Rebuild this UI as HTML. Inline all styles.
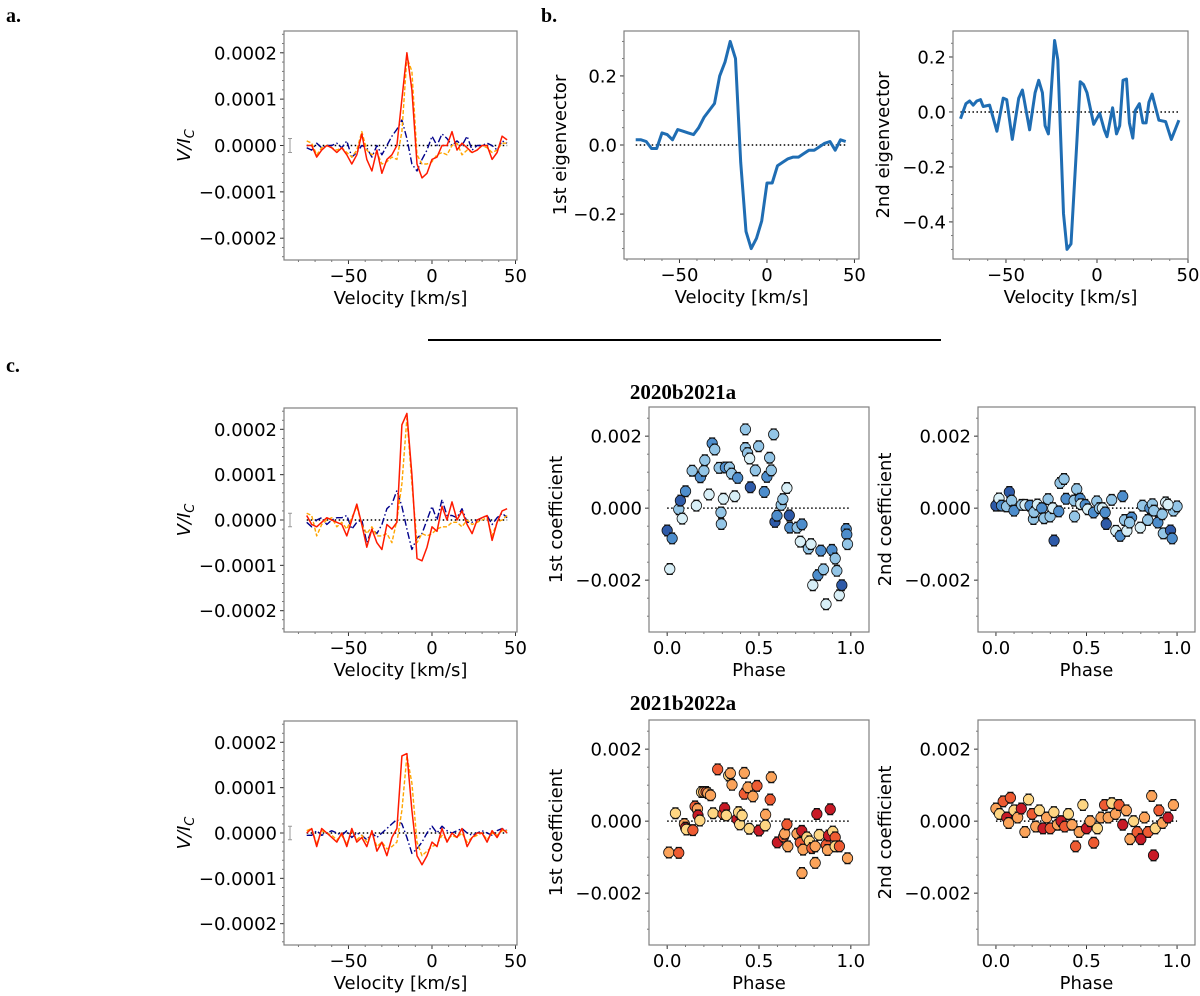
<!DOCTYPE html>
<html><head><meta charset="utf-8"><style>
html,body{margin:0;padding:0;background:#fff;}
svg{display:block;font-family:"DejaVu Sans","Liberation Sans",sans-serif;}
.lab{font-family:"Liberation Serif",serif;font-weight:bold;}
</style></head><body>
<svg id="fig" width="1200" height="996" viewBox="0 0 1200 996" xmlns="http://www.w3.org/2000/svg">
<text class="lab" x="6" y="22" font-size="20">a.</text>
<text class="lab" x="541" y="22" font-size="20">b.</text>
<text class="lab" x="6" y="372" font-size="20">c.</text>
<line x1="428" y1="340" x2="941" y2="340" stroke="#000" stroke-width="2"/>
<text class="lab" x="683" y="399" font-size="21" text-anchor="middle">2020b2021a</text>
<text class="lab" x="683" y="710" font-size="21" text-anchor="middle">2021b2022a</text>
</svg>
<script>
// ---------- data ----------
const vel = [-75,-72,-69,-66,-63,-60,-57,-54,-51,-48,-45,-42,-39,-36,-33,-30,-27,-24,-21,-18,-15,-12,-9,-6,-3,0,3,6,9,12,15,18,21,24,27,30,33,36,39,42,45];
// panel a (units 1e-4)
const aRed = [0,0,-0.25,-0.1,0,-0.05,-0.15,-0.05,-0.2,-0.4,-0.2,0.25,-0.3,-0.55,-0.1,-0.6,-0.3,-0.2,0.0,1.0,2.0,1.2,-0.4,-0.7,-0.6,-0.3,-0.25,0,0,0.3,-0.1,0.05,-0.05,-0.15,-0.1,0,0,-0.3,-0.15,0.2,0.12];
const aOrange = [0.1,0.05,-0.2,-0.05,0,-0.05,-0.1,-0.05,-0.15,-0.25,-0.1,0.3,-0.1,-0.2,-0.15,-0.4,-0.35,-0.25,-0.3,0.3,1.9,1.6,-0.2,-0.4,-0.4,-0.35,-0.2,-0.15,-0.2,0,0.05,-0.2,-0.1,-0.15,-0.1,0,-0.05,-0.15,-0.1,0.05,0.05];
const aNavy = [-0.05,-0.1,0.05,-0.05,0,0,0.05,-0.05,0.1,-0.25,-0.15,0,-0.05,-0.25,0,-0.2,0,0.2,0.35,0.55,0.15,-0.4,-0.55,-0.3,-0.1,0.2,0,0.25,0.15,0,0.1,0,0.2,-0.1,0,0,0.05,0,-0.1,0.1,0.05];
// row 1 left
const r1Red = [0.1,-0.1,-0.15,-0.05,0.05,0,-0.05,-0.1,-0.35,0,0.35,-0.1,-0.6,-0.2,-0.5,-0.65,-0.1,-0.2,-0.05,2.1,2.35,1.0,-0.85,-0.9,-0.6,-0.15,-0.25,0.3,0,0.4,0,0.2,-0.1,-0.3,0,0.05,0.1,-0.45,-0.05,0.2,0.25];
const r1Orange = [0.15,0.1,-0.35,-0.1,0,0.05,-0.15,-0.05,-0.2,0.05,0.3,-0.1,-0.3,-0.15,-0.35,-0.35,-0.3,-0.5,0,0.8,2.25,0.8,-0.5,-0.3,-0.35,-0.3,-0.2,-0.15,-0.15,-0.05,-0.05,-0.15,0,-0.1,-0.05,0,0.05,-0.35,-0.05,0,0.1];
const r1Navy = [-0.05,-0.15,0,0.05,-0.1,0,0.05,0.05,0.1,-0.2,-0.05,0,-0.5,-0.2,-0.3,-0.1,0.25,0.35,0.65,0.3,-0.2,-0.65,-0.4,-0.3,0,0.3,0,0.45,0.1,0.1,0.05,0.25,-0.05,-0.05,0,0.05,0.1,-0.1,0.05,0.15,0.05];
// row 2 left
const r2Red = [0,0.1,-0.3,0.1,0,-0.1,-0.2,0,-0.3,0.1,-0.2,-0.1,-0.3,0.05,-0.4,-0.2,-0.5,-0.1,0.1,1.7,1.75,0.5,-0.5,-0.7,-0.5,-0.2,-0.3,0.1,-0.2,0,-0.1,0.1,-0.3,-0.1,0,0,-0.2,0.05,-0.1,0.1,0];
const r2Orange = [0.05,0.1,-0.25,0.05,0,-0.05,-0.15,-0.05,-0.25,0.05,-0.15,-0.05,-0.2,0,-0.3,-0.2,-0.35,-0.3,-0.2,0.5,1.7,1.1,-0.2,-0.5,-0.4,-0.3,-0.25,-0.05,-0.15,-0.05,-0.1,0,-0.2,-0.1,-0.05,0,-0.15,0,-0.05,0.05,0.05];
const r2Navy = [-0.05,-0.05,0.05,-0.05,0,0.05,0,-0.05,0.05,-0.1,0,-0.05,-0.15,0,-0.1,0,0.1,0.2,0.3,0.2,-0.1,-0.45,-0.35,-0.2,0,0.15,0,0.15,0.05,0,0.05,0.1,0,-0.05,0,0.05,0,-0.05,0.05,0.1,0.05];
// eigenvectors
const eig1 = [0.015,0.015,0.01,-0.01,-0.01,0.035,0.03,0.015,0.045,0.04,0.035,0.03,0.05,0.08,0.1,0.12,0.2,0.24,0.3,0.25,-0.05,-0.25,-0.3,-0.27,-0.22,-0.11,-0.11,-0.06,-0.05,-0.04,-0.035,-0.035,-0.025,-0.015,-0.015,-0.005,0.005,0.01,-0.015,0.015,0.01];
const eig2Vel = [-75,-72,-70,-68,-66,-64,-62.5,-59,-55,-51.5,-49.6,-46.5,-43,-41,-37,-34,-32,-30,-28.5,-26.7,-23.3,-21.5,-18.4,-16.5,-14.3,-11,-9.2,-7.4,-5.5,-1.8,1.5,4,5.5,8.6,10.7,12.5,14.3,16.2,17.8,19.7,21,23.3,25.2,27,28.5,30.3,34,37.7,40.8,45];
const eig2 = [-0.025,0.03,0.04,0.025,0.04,0.045,0.02,0.025,-0.07,0.05,0.045,-0.1,0.05,0.08,-0.065,0.07,0.115,0.07,-0.05,-0.08,0.26,0.19,-0.37,-0.5,-0.48,-0.1,0.11,0.1,0.07,-0.045,-0.005,-0.065,-0.09,0.015,-0.08,-0.05,0.115,0.12,-0.04,-0.095,0.005,0.03,-0.04,-0.04,0.035,0.065,-0.03,-0.035,-0.1,-0.03];
// coefficients (units 1e-3); colour index 0=darkest ... 3=lightest
const c11Phase = [0,0.027,0.014,0.063,0.072,0.082,0.1,0.136,0.159,0.181,0.2,0.205,0.228,0.245,0.259,0.283,0.293,0.295,0.306,0.317,0.339,0.351,0.368,0.384,0.426,0.426,0.438,0.449,0.453,0.48,0.498,0.529,0.543,0.558,0.567,0.58,0.587,0.598,0.621,0.63,0.652,0.665,0.668,0.708,0.734,0.725,0.769,0.783,0.793,0.821,0.837,0.851,0.865,0.897,0.915,0.924,0.937,0.951,0.975,0.978,0.982];
const c11Val = [-0.62,-0.84,-1.69,-0.03,0.21,-0.29,0.47,1.04,0.07,0.86,1.04,1.33,0.38,1.8,1.63,1.12,-0.12,-0.44,0.26,1.13,1.13,0.96,0.33,0.84,2.19,1.67,1.53,1.38,0.58,1.05,1.72,0.45,0.87,1.4,1.05,2.05,-0.38,-0.21,0.09,0.25,0.56,-0.2,-0.54,-0.54,-0.45,-0.93,-1.12,-1.0,-2.14,-1.86,-1.18,-1.7,-2.67,-1.16,-1.4,-1.74,-2.42,-2.14,-0.58,-0.73,-1.0];
const c11Col = [0,1,3,2,0,3,1,2,3,1,2,2,3,1,2,2,2,2,3,1,2,2,3,1,2,2,2,3,0,2,2,1,1,2,2,2,0,1,2,2,3,0,1,2,1,3,2,3,3,1,1,2,3,1,2,2,3,0,1,1,2];
const c12Phase = [0,0.017,0.031,0.059,0.074,0.087,0.1,0.142,0.161,0.188,0.207,0.21,0.229,0.253,0.266,0.288,0.299,0.314,0.321,0.347,0.354,0.376,0.387,0.432,0.434,0.446,0.465,0.469,0.493,0.507,0.539,0.557,0.572,0.588,0.603,0.609,0.639,0.662,0.686,0.7,0.71,0.723,0.749,0.738,0.797,0.809,0.838,0.85,0.864,0.872,0.894,0.918,0.924,0.937,0.964,0.973,0.98,1.0,0.95];
const c12Val = [0.07,0.27,0.07,0.05,0.45,0.21,-0.07,0.09,0.09,0.07,-0.3,-0.11,0.1,0.0,-0.28,0.25,-0.23,0.0,-0.9,-0.09,0.7,0.81,0.26,0.21,-0.23,0.53,0.26,0.11,0.09,-0.03,-0.12,0.19,0.0,0.0,-0.12,-0.44,0.23,-0.63,-0.77,0.33,-0.33,-0.63,-0.26,-0.4,-0.54,0.07,-0.33,0.0,0.11,-0.07,-0.4,-0.17,-0.7,0.16,-0.62,-0.84,-0.07,0.05,0.1];
const c12Col = [0,3,1,2,0,2,1,2,3,1,2,2,3,1,2,2,2,3,0,1,2,2,1,2,2,2,1,3,1,3,1,2,2,3,1,0,2,3,1,1,2,3,1,2,3,2,2,1,2,2,1,2,2,3,0,1,2,2,3];
const c21Phase = [0.009,0.063,0.045,0.094,0.1,0.105,0.14,0.152,0.165,0.168,0.178,0.187,0.199,0.212,0.221,0.236,0.25,0.275,0.304,0.313,0.322,0.335,0.344,0.353,0.38,0.389,0.395,0.408,0.42,0.42,0.44,0.447,0.467,0.489,0.5,0.534,0.536,0.561,0.567,0.6,0.634,0.64,0.652,0.657,0.707,0.725,0.733,0.74,0.734,0.761,0.775,0.788,0.806,0.806,0.815,0.828,0.866,0.873,0.879,0.888,0.902,0.915,0.915,0.938,0.982];
const c21Val = [-0.87,-0.88,0.22,-0.08,-0.18,-0.23,-0.25,0.41,0.34,0.16,0.02,0.81,0.81,0.81,0.78,0.72,0.22,1.44,0.2,0.36,0.16,1.27,1.33,1.01,0.06,0.25,-0.09,0.16,1.34,0.76,0.94,-0.21,0.69,0.98,-0.26,-0.12,0.18,0.6,1.22,-0.59,-0.43,-0.35,-0.09,-0.7,-0.35,-0.6,-0.27,-0.79,-1.44,-0.45,-0.56,-0.75,-0.7,-1.16,0.2,-0.38,-0.66,-0.8,-0.4,0.33,-0.29,-0.45,-0.7,-0.7,-1.03];
const c21Col = [2,1,3,2,0,3,1,1,2,0,3,3,2,1,2,2,3,1,1,0,3,3,2,2,0,3,3,3,2,1,2,3,2,1,0,3,2,1,2,0,1,2,1,2,2,1,0,2,2,3,3,1,2,2,0,3,1,2,0,0,3,1,3,1,2];
const c22Phase = [0.0,0.02,0.04,0.06,0.07,0.08,0.1,0.12,0.14,0.16,0.18,0.2,0.22,0.24,0.26,0.28,0.3,0.32,0.34,0.36,0.38,0.4,0.42,0.44,0.46,0.48,0.5,0.52,0.54,0.56,0.58,0.6,0.62,0.64,0.66,0.68,0.7,0.72,0.74,0.76,0.78,0.8,0.82,0.84,0.86,0.87,0.88,0.9,0.92,0.95,0.98];
const c22Val = [0.35,0.2,0.55,0.1,-0.05,0.65,0.3,0.1,0.35,-0.3,0.6,0.2,-0.15,0.3,-0.2,0.1,-0.2,0.25,-0.1,0.0,-0.15,0.2,-0.1,-0.7,-0.3,0.45,-0.2,0.0,-0.6,-0.2,0.1,0.45,0.1,0.5,0.2,0.45,-0.1,0.3,-0.5,0.0,-0.3,-0.5,0.1,-0.3,0.7,-0.95,-0.2,0.3,-0.05,0.1,0.45];
const c22Col = [2,3,1,0,2,1,3,2,0,2,3,1,2,3,0,2,1,3,2,0,1,3,2,1,2,3,0,2,1,3,2,1,2,3,2,1,0,2,2,3,1,0,2,1,2,0,3,1,2,0,2];
const yVTicks = [-2,-1,0,1,2];
const yVLabels = ["\u22120.0002","\u22120.0001","0.0000","0.0001","0.0002"];
const xVTicks = [-50,0,50];
const xVLabels = ["\u221250","0","50"];
const yE1Ticks = [-0.2,0,0.2];
const yE1Labels = ["\u22120.2","0.0","0.2"];
const yE2Ticks = [-0.4,-0.2,0,0.2];
const yE2Labels = ["\u22120.4","\u22120.2","0.0","0.2"];
const yCTicks = [-2,0,2];
const yCLabels = ["\u22120.002","0.000","0.002"];
const xPTicks = [0,0.5,1];
const xPLabels = ["0.0","0.5","1.0"];
const blues = ["#2e5aa8","#4d8dcc","#93c5e6","#d8eff7"];
const oranges = ["#c81a26","#ee5b32","#fba35a","#fed683"];

// ---------- drawing ----------
const NS = "http://www.w3.org/2000/svg";
const svg = document.getElementById('fig');
function el(tag, attrs, parent){
  const e = document.createElementNS(NS, tag);
  for (const k in attrs) e.setAttribute(k, attrs[k]);
  (parent||svg).appendChild(e);
  return e;
}
function axes(name, box, xd, yd, o){
  const g = el('g', {});
  
  
  const sx = v => box.x0 + (v - xd[0]) / (xd[1] - xd[0]) * (box.x1 - box.x0);
  const sy = v => box.y1 - (v - yd[0]) / (yd[1] - yd[0]) * (box.y1 - box.y0);
  for (let v = Math.ceil(yd[0]/o.yMinor)*o.yMinor; v <= yd[1]; v += o.yMinor){
    const l = el('line', {x1:box.x0-2, x2:box.x0, y1:sy(v), y2:sy(v), stroke:'#555', 'stroke-width':0.8}, g);
    
    
  }
  for (let v = Math.ceil(xd[0]/o.xMinor)*o.xMinor; v <= xd[1]; v += o.xMinor){
    const l = el('line', {x1:sx(v), x2:sx(v), y1:box.y1, y2:box.y1+2, stroke:'#555', 'stroke-width':0.8}, g);
    
    
  }
  o.yt.forEach((v,i) => {
    const l = el('line', {x1:box.x0-4, x2:box.x0, y1:sy(v), y2:sy(v), stroke:'#333', 'stroke-width':1}, g);
    
    
    const t = el('text', {x:box.x0-7, y:sy(v)+6.5, 'font-size':18, 'text-anchor':'end'}, g);
    t.textContent = o.yl[i];
    
    
  });
  o.xt.forEach((v,i) => {
    const l = el('line', {x1:sx(v), x2:sx(v), y1:box.y1, y2:box.y1+4, stroke:'#333', 'stroke-width':1}, g);
    
    
    const t = el('text', {x:sx(v), y:box.y1+22, 'font-size':18, 'text-anchor':'middle'}, g);
    t.textContent = o.xl[i];
    
    
  });
  const fr = el('rect', {x:box.x0, y:box.y0, width:box.x1-box.x0, height:box.y1-box.y0, fill:'none', stroke:'#808080', 'stroke-width':1.2}, g);
  
  
  const xt = el('text', {x:(box.x0+box.x1)/2, y:box.y1+44, 'font-size':18, 'text-anchor':'middle'}, g);
  xt.textContent = o.xlab;
  
  
  const yt = el('text', {x:0, y:0, 'font-size':18, 'text-anchor':'middle', transform:`translate(${o.ylx},${(box.y0+box.y1)/2}) rotate(-90)`}, g);
  if (o.italicV){
    const a = el('tspan', {'font-style':'italic'}, yt); a.textContent = 'V/I';
     
    const b = el('tspan', {'font-style':'italic','font-size':13, dy:4}, yt); b.textContent = 'C';
     
  } else yt.textContent = o.ylab;
  
  
  return {g, sx, sy};
}
function line(ax, xs, ys, style, name){
  const d = xs.map((x,i) => (i?'L':'M') + ax.sx(x).toFixed(1) + ' ' + ax.sy(ys[i]).toFixed(1)).join(' ');
  const p = el('path', Object.assign({d, fill:'none', 'stroke-linejoin':'round'}, style), ax.g);
  
  
}
function zero(ax, a, b){
  const l = el('line', {x1:ax.sx(a), x2:ax.sx(b), y1:ax.sy(0), y2:ax.sy(0), stroke:'#000', 'stroke-width':1.5, 'stroke-dasharray':'1.5,2.5'}, ax.g);
  
  
}
function vPanel(name, y0, y1, red, orange, navy){
  const box = {x0:284, x1:517, y0, y1};
  const ax = axes(name, box, [-88.6,50.9], [-2.47,2.47], {yt:yVTicks, yl:yVLabels, xt:xVTicks, xl:xVLabels, yMinor:0.2, xMinor:10, xlab:'Velocity [km/s]', italicV:true, ylx:190});
  zero(ax, -75, 45);
  const eb = el('path', {d:`M${ax.sx(-85)} ${ax.sy(0.15)} V${ax.sy(-0.15)} M${ax.sx(-85)-2} ${ax.sy(0.15)} h4 M${ax.sx(-85)-2} ${ax.sy(-0.15)} h4`, stroke:'#999', 'stroke-width':1, fill:'none'}, ax.g);
  
  
  line(ax, vel, navy, {stroke:'#00008b','stroke-width':1.4,'stroke-dasharray':'7,2.5,1.5,2.5'}, 'navy-dashdot-profile');
  line(ax, vel, orange, {stroke:'#ffa500','stroke-width':1.4,'stroke-dasharray':'4,2'}, 'orange-dashed-profile');
  line(ax, vel, red, {stroke:'#ff1a00','stroke-width':1.5}, 'red-solid-profile');
}
vPanel('panel-a-stokes-v', 31, 260, aRed, aOrange, aNavy);
vPanel('row1-stokes-v', 408, 632, r1Red, r1Orange, r1Navy);
vPanel('row2-stokes-v', 721, 945, r2Red, r2Orange, r2Navy);

const e1 = axes('panel-b-eigenvector-1', {x0:624,x1:859,y0:31,y1:259}, [-81.7,52.6], [-0.33,0.33], {yt:yE1Ticks, yl:yE1Labels, xt:xVTicks, xl:xVLabels, yMinor:0.05, xMinor:10, xlab:'Velocity [km/s]', ylab:'1st eigenvector', ylx:566});
zero(e1, -75, 45);
line(e1, vel, eig1, {stroke:'#1f6db3','stroke-width':3}, 'eigenvector-1-line');
const e2 = axes('panel-b-eigenvector-2', {x0:953,x1:1188,y0:31,y1:259}, [-79.1,50], [-0.535,0.2945], {yt:yE2Ticks, yl:yE2Labels, xt:xVTicks, xl:xVLabels, yMinor:0.05, xMinor:10, xlab:'Velocity [km/s]', ylab:'2nd eigenvector', ylx:889});
zero(e2, -75, 45);
line(e2, eig2Vel, eig2, {stroke:'#1f6db3','stroke-width':3}, 'eigenvector-2-line');

function coefPanel(name, x0, x1, y0, y1, ylab, ylx, ph, val, col, pal){
  const ax = axes(name, {x0,x1,y0,y1}, [-0.099,1.099], [-3.44,2.81], {yt:yCTicks, yl:yCLabels, xt:xPTicks, xl:xPLabels, yMinor:0.5, xMinor:0.1, xlab:'Phase', ylab, ylx});
  zero(ax, 0, 1);
  ph.forEach((p,i) => {
    const g = el('g', {}, ax.g);
    
    
    const x = ax.sx(p), ya = ax.sy(val[i]+0.15), yb = ax.sy(val[i]-0.15);
    el('path', {d:`M${x} ${ya} V${yb} M${x-3} ${ya} h6 M${x-3} ${yb} h6`, stroke:'#111', 'stroke-width':1.2, fill:'none'}, g);
    el('circle', {cx:x, cy:ax.sy(val[i]), r:5.2, fill:pal[col[i]], stroke:'#111', 'stroke-width':0.8}, g);
  });
}
coefPanel('row1-coefficient-1', 649, 869, 407, 632, '1st coefficient', 562, c11Phase, c11Val, c11Col, blues);
coefPanel('row1-coefficient-2', 978, 1195, 407, 632, '2nd coefficient', 891, c12Phase, c12Val, c12Col, blues);
coefPanel('row2-coefficient-1', 649, 869, 720, 945, '1st coefficient', 562, c21Phase, c21Val, c21Col, oranges);
coefPanel('row2-coefficient-2', 978, 1195, 720, 945, '2nd coefficient', 891, c22Phase, c22Val, c22Col, oranges);
</script>
</body></html>
